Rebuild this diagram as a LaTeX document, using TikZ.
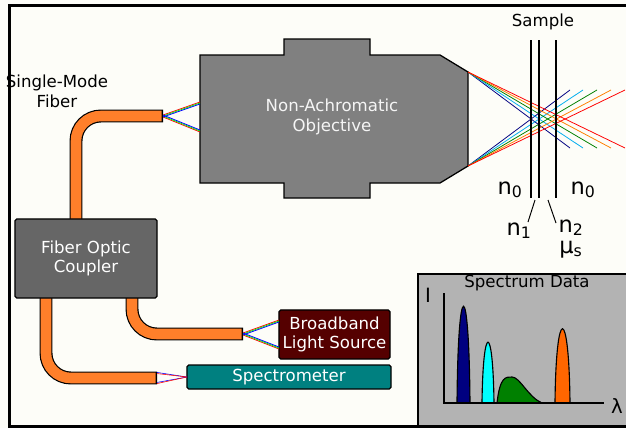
\documentclass[tikz,border=0pt]{standalone}
\usepackage{fontspec}
\setmainfont{DejaVu Sans}
\usepackage{tikz}
\usetikzlibrary{positioning}

\definecolor{paper}{RGB}{253,253,248}
\definecolor{fiberorange}{RGB}{255,127,42}
\definecolor{objgrey}{RGB}{128,128,128}
\definecolor{couplergrey}{RGB}{102,102,102}
\definecolor{sourcered}{RGB}{85,0,0}
\definecolor{specteal}{RGB}{0,128,128}
\definecolor{datagrey}{RGB}{179,179,179}
\definecolor{peaknavy}{RGB}{0,0,128}
\definecolor{peakcyan}{RGB}{0,255,255}
\definecolor{peakgreen}{RGB}{0,128,0}
\definecolor{peakorange}{RGB}{255,102,0}

% orange fiber with a thin black wall
\newcommand{\fiber}[1]{%
  \draw[fiberwall] #1;
  \draw[fibercore] #1;}

\begin{document}
\begin{tikzpicture}[x=0.025cm,y=-0.025cm,font=\fontsize{11.8}{14}\selectfont]
  \tikzstyle{box}=[draw=black,line width=0.9pt,rounded corners=1.2pt,text=white,align=center,inner sep=0pt]
  \tikzstyle{fiberwall}=[draw=black,line width=9.2pt,rounded corners=0.62cm]
  \tikzstyle{fibercore}=[draw=fiberorange,line width=7.5pt,rounded corners=0.62cm,shorten >=0.9pt]
  \tikzstyle{ray}=[line width=0.55pt]
  \tikzstyle{peak}=[draw=black,line width=0.8pt]
  \tikzstyle{index}=[font=\fontsize{16}{19}\selectfont,anchor=base,inner sep=0pt]
  \tikzstyle{axislabel}=[font=\fontsize{14}{16}\selectfont]

  \clip (0,0) rectangle (626,428);
  \fill[paper] (0,0) rectangle (626,428);

  % fibers
  \fiber{(76,225) -- (76,116) -- (163,116)}
  \fiber{(132,292) -- (132,334) -- (243,334)}
  \fiber{(46,292) -- (46,378) -- (157,378)}

  \coordinate (smfend) at (163,116);
  \coordinate (srcend) at (243,334);
  \coordinate (specend) at (157,378);

  % boxes
  \node[box,fill=couplergrey,minimum width=3.55cm,minimum height=1.975cm] (coupler) at (86,258.5) {Fiber Optic\\Coupler};
  \node[box,fill=sourcered,minimum width=2.775cm,minimum height=1.225cm] (source) at (334.5,334.5) {Broadband\\Light Source};
  \node[box,fill=specteal,minimum width=5.1cm,minimum height=0.6cm] (spectro) at (289,377) {Spectrometer};

  % objective
  \draw[fill=objgrey,line width=0.9pt] (200,55) -- (284,55) -- (284,39) -- (370,39) -- (370,55) -- (440,55)
    -- (468,72) -- (468,166) -- (440,183) -- (370,183) -- (370,198) -- (284,198) -- (284,183) -- (200,183) -- cycle;
  \node[text=gray!8,align=center] (obj) at (332,117) {Non-Achromatic\\Objective};
  \coordinate (objin1) at (200,103);
  \coordinate (objin2) at (200,131);
  \coordinate (objout1) at (468,72);
  \coordinate (objout2) at (468,166);

  \node[align=center] (smf) at (57,91) {Single-Mode\\Fiber};

  % light into the objective and out of the source
  \foreach \c/\d in {red/1,green/0,blue/-1} {
    \draw[ray,\c] ([yshift=\d*0.7pt]smfend) -- ([yshift=\d*0.7pt]objin1);
    \draw[ray,\c] ([yshift=-\d*0.7pt]smfend) -- ([yshift=-\d*0.7pt]objin2);
    \draw[ray,\c] ([yshift=\d*0.7pt]srcend) -- ([yshift=\d*0.7pt]279,321);
    \draw[ray,\c] ([yshift=-\d*0.7pt]srcend) -- ([yshift=-\d*0.7pt]279,348);
  }
  \coordinate (specin) at (187,377);
  \foreach \c/\d in {blue/0.4,red/-0.4} {
    \draw[ray,\c,line width=0.4pt] ([yshift=\d pt]157,373) -- (specin);
    \draw[ray,\c,line width=0.4pt] ([yshift=\d pt]157,383) -- (specin);
  }

  % focus behind the objective
  \foreach \c/\x in {peaknavy/570,cyan/583,peakgreen/597,orange/611,red/625} {
    \draw[ray,\c] (objout1) -- (\x,148);
    \draw[ray,\c] (objout2) -- (\x,90);
  }

  % sample layers
  \draw[line width=0.8pt] (531,40) -- (531,198);
  \draw[line width=0.8pt] (539,40) -- (539,198);
  \draw[line width=0.8pt] (556,40) -- (556,198);
  \node (sample) at (543,22) {Sample};

  \node[index] (n0l) at (510,194) {n\textsubscript{0}};
  \node[index] (n0r) at (583,194) {n\textsubscript{0}};
  \node[index] (n1) at (519,235) {n\textsubscript{1}};
  \node[index] (n2) at (571,232) {n\textsubscript{2}};
  \node[index] (mus) at (571,253) {μ\textsubscript{s}};
  \coordinate (l1) at (535,200);
  \coordinate (l2) at (548,200);
  \draw[line width=0.7pt] (528,222) -- (l1);
  \draw[line width=0.7pt] (556,223) -- (l2);

  % spectrum data
  \draw[fill=datagrey,line width=0.8pt] (418,274) rectangle (640,440);
  \node (title) at (527,283) {Spectrum Data};
  \node[axislabel] (iaxis) at (428,295) {I};
  \node[axislabel] (laxis) at (617,406) {λ};
  \draw[peak,fill=peaknavy] (457,403) .. controls (458,274) and (469,274) .. (470,403) -- cycle;
  \draw[peak,fill=peakcyan] (482,403) .. controls (483,322) and (493,322) .. (494,403) -- cycle;
  \draw[peak,fill=peakgreen] (497,403) .. controls (500,376) and (506,377) .. (512,377)
    .. controls (520,377) and (528,397) .. (542,403) -- cycle;
  \draw[peak,fill=peakorange] (555,403) .. controls (556,304) and (569,304) .. (570,403) -- cycle;
  \draw[line width=0.8pt] (444,293) -- (444,403) -- (604,403);

  % frame
  \draw[line width=2.6pt] (630,5.5) -- (9.5,5.5) -- (9.5,426.5) -- (630,426.5);
\end{tikzpicture}
\end{document}
